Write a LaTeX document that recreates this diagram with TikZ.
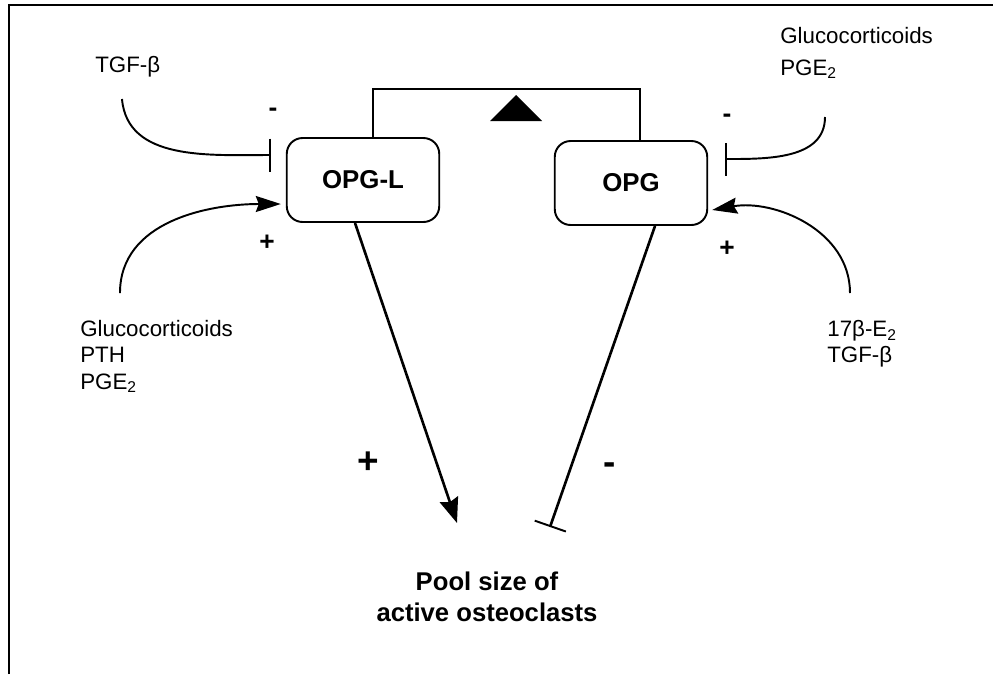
\documentclass[tikz,border=0pt]{standalone}
\usepackage{fontspec}
\setmainfont{Liberation Sans}
\usepackage{tikz}
\usetikzlibrary{arrows.meta, positioning}

\begin{document}
\begin{tikzpicture}[
  x=0.02cm, y=-0.02cm,
  genebox/.style={draw, line width=1.1pt, rounded corners=9pt, minimum width=3.05cm, minimum height=1.68cm, font=\fontsize{14.7}{17}\selectfont\bfseries},
  factor/.style={align=left, inner sep=0pt, anchor=north west, font=\fontsize{12.7}{15}\selectfont},
  sign/.style={font=\fontsize{15}{17}\selectfont\bfseries, inner sep=0pt},
  bigsign/.style={font=\fontsize{21}{24}\selectfont\bfseries, inner sep=0pt},
  act/.style={draw, line width=1.1pt, -{Stealth[length=0.5cm, width=0.32cm, inset=0.06cm]}},
  inhib/.style={draw, line width=1.1pt, -{Bar[width=0.66cm, line width=1.1pt]}}
]
  \useasboundingbox (0,0) rectangle (993,674);
  \draw[line width=1.5pt] (9,674) -- (9,5) -- (993,5);

  \node[genebox] (opgl) at (363,180) {OPG-L};
  \node[genebox] (opg) at (631,183) {OPG};

  \coordinate (top) at (516,89);
  \draw[line width=1.1pt] ([xshift=0.2cm]opgl.north) |- (top) -| ([xshift=0.18cm]opg.north);
  \fill (516,95) -- (542,121) -- (490,121) -- cycle;

  \node[factor] (tgfl) at (95,56) {TGF-β};
  \node[factor] (glucr) at (780,27) {Glucocorticoids\\[3pt]PGE\textsubscript{2}};
  \node[factor] (glucl) at (80,320) {Glucocorticoids\\PTH\\PGE\textsubscript{2}};
  \node[factor] (estr) at (827,320) {17β-E\textsubscript{2}\\TGF-β};

  \draw[inhib] ([xshift=0.54cm,yshift=-0.86cm]tgfl.north west) to[out=-85, in=180] ([xshift=-0.3cm,yshift=0.5cm]opgl.west);
  \draw[act] ([xshift=0.8cm,yshift=0.54cm]glucl.north west) to[out=90, in=180] ([xshift=-0.1cm,yshift=-0.48cm]opgl.west);
  \draw[inhib] ([xshift=0.9cm,yshift=-1.8cm]glucr.north west) to[out=-90, in=0] ([xshift=0.34cm,yshift=0.48cm]opg.east);
  \draw[act] ([xshift=0.46cm,yshift=0.54cm]estr.north west) to[out=90, in=10] ([xshift=0.08cm,yshift=-0.54cm]opg.east);

  \node[sign] (m1) at (273,112) {-};
  \node[sign] (p1) at (267,243) {+};
  \node[sign] (m2) at (727,118) {-};
  \node[sign] (p2) at (727,249) {+};

  \node[align=center, font=\fontsize{14.6}{17.6}\selectfont\bfseries] (pool) at (487,597) {Pool size of\\active osteoclasts};
  \coordinate (poolin) at (457,523);
  \coordinate (poolbar) at (550,527);
  \draw[line width=1.5pt, -{Stealth[length=0.5cm, width=0.38cm, inset=0.06cm]}] ([xshift=-0.16cm]opgl.south) -- (poolin);
  \draw[line width=1.5pt, -{Bar[width=0.66cm, line width=1.1pt]}] ([xshift=0.48cm]opg.south) -- (poolbar);

  \node[bigsign] (p3) at (368,463) {+};
  \node[bigsign] (m3) at (610,469) {-};
\end{tikzpicture}
\end{document}
